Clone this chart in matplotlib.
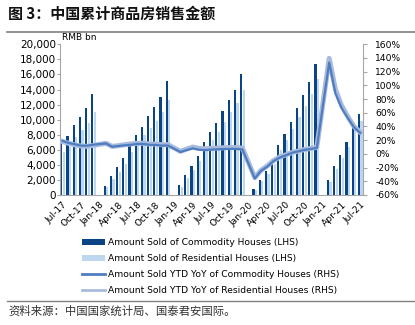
import numpy as np
import matplotlib
matplotlib.use("Agg")
import matplotlib.pyplot as plt
from matplotlib.patches import Patch
from matplotlib.lines import Line2D
from matplotlib.ticker import FuncFormatter, MultipleLocator

plt.rcParams['font.family'] = ['DejaVu Sans', 'Noto Sans CJK SC']

# ---------------- data ----------------
tick_labels = ['Jul-17', 'Oct-17', 'Jan-18', 'Apr-18', 'Jul-18', 'Oct-18', 'Jan-19',
               'Apr-19', 'Jul-19', 'Oct-19', 'Jan-20', 'Apr-20', 'Jul-20', 'Oct-20',
               'Jan-21', 'Apr-21', 'Jul-21']

# monthly YTD amounts (RMB bn), Jul-17 .. Jul-21 (January has no data)
commodity_sales = [6900, 7800, 9300, 10400, 11600, 13400,
                   None, 1200, 2500, 3650, 4850, 6600, 7950, 9000, 10450, 11700, 13050, 15100,
                   None, 1300, 2700, 3850, 5200, 7000, 8300, 9600, 11150, 12550, 14000, 16050,
                   None, 800, 2050, 3250, 4500, 6700, 8150, 9750, 11600, 13300, 15000, 17400,
                   None, 1950, 3850, 5300, 7050, 9200, 10700]
residential_sales = [5750, 6400, 7750, 8650, 9600, 11050,
                     None, 1000, 2150, 3100, 4150, 5750, 7150, 8000, 8950, 9850, 11050, 12650,
                     None, 1100, 2250, 3350, 4500, 6200, 7250, 8350, 9700, 10950, 12200, 14000,
                     None, 700, 1850, 2850, 4050, 5950, 7250, 8750, 10350, 11850, 13350, 15450,
                     None, 1750, 3500, 4950, 6400, 8600, 9800]
# YTD YoY (%)
commodity_yoy = [19.0, 16.0, 14.0, 12.0, 12.0, 13.5,
                 None, 15.3, 10.4, 11.5, 12.5, 13.2, 14.5, 14.5, 13.3, 13.1, 12.1, 12.2,
                 None, 2.8, 5.6, 8.1, 6.1, 5.6, 6.2, 6.7, 7.1, 7.3, 7.3, 6.5,
                 None, -35.9, -24.7, -18.6, -10.6, -5.4, -2.1, 1.6, 3.7, 5.8, 7.2, 8.7,
                 None, 133.4, 88.5, 67.0, 52.4, 38.9, 30.7]
residential_yoy = [18.0, 15.5, 13.0, 11.5, 11.0, 12.5,
                   None, 15.5, 11.0, 12.0, 13.5, 14.5, 15.5, 15.5, 14.5, 14.3, 13.5, 13.5,
                   None, 3.7, 7.0, 10.0, 8.0, 7.5, 8.0, 8.5, 9.0, 9.3, 9.3, 8.5,
                   None, -34.7, -24.0, -17.7, -9.8, -4.6, -1.4, 2.0, 4.1, 6.4, 7.9, 9.8,
                   None, 139.5, 94.4, 70.5, 54.4, 40.0, 31.6]

labels = ['Amount Sold of Commodity Houses (LHS)',
          'Amount Sold of Residential Houses (LHS)',
          'Amount Sold YTD YoY of Commodity Houses (RHS)',
          'Amount Sold YTD YoY of Residential Houses (RHS)']

# ---------------- style ----------------
c_dark = '#0B4485'
c_light = '#BDD7EE'
c_line_dark = '#4E7DC1'
c_line_light = '#A9BBDC'
c_axis = '#A6A6A6'

W, H = 415, 325
fig = plt.figure(figsize=(W / 100, H / 100), dpi=100)
ax = fig.add_axes([60 / W, 1 - 195 / H, (363.3 - 60) / W, (195 - 44.3) / H])
ax2 = ax.twinx()

n = len(commodity_sales)
x_all = np.arange(n)

def pick(vals):
    xs = [i for i, v in enumerate(vals) if v is not None]
    return np.array(xs), np.array([vals[i] for i in xs], dtype=float)

bw = 0.36
xd, yd = pick(commodity_sales)
xl, yl = pick(residential_sales)
ax.bar(xd - 0.2, yd, width=bw, color=c_dark, linewidth=0, zorder=2)
ax.bar(xl + 0.2, yl, width=bw, color=c_light, linewidth=0, zorder=2)

xr, yr = pick(residential_yoy)
xc, yc = pick(commodity_yoy)
ax2.plot(xr, yr, color=c_line_light, lw=3.6, solid_joinstyle='round', zorder=3)
ax2.plot(xc, yc, color=c_line_dark, lw=1.6, solid_joinstyle='round', zorder=4)

ax.set_xlim(-0.42, n - 0.5)
ax.set_ylim(0, 20000)
ax2.set_ylim(-60, 160)
ax.yaxis.set_major_locator(MultipleLocator(2000))
ax2.yaxis.set_major_locator(MultipleLocator(20))
ax.yaxis.set_major_formatter(FuncFormatter(lambda v, p: f'{int(v):,}'))
ax2.yaxis.set_major_formatter(FuncFormatter(lambda v, p: f'{int(v)}%'))

ax.set_xticks(x_all[::3])
ax.set_xticklabels(tick_labels, rotation=45, ha='right', va='top',
                   rotation_mode='anchor', fontsize=6.6)
ax.tick_params(axis='x', length=0, pad=4)
ax.tick_params(axis='y', length=2, color=c_axis, pad=1, labelsize=7.5)
ax2.tick_params(axis='y', length=3, color=c_axis, pad=5.5, labelsize=6.6)

for a in (ax, ax2):
    a.spines['top'].set_visible(False)
    for s in ('left', 'right', 'bottom'):
        a.spines[s].set_color(c_axis)
        a.spines[s].set_linewidth(0.8)
ax.spines['right'].set_visible(False)
ax2.spines['left'].set_visible(False)
ax2.spines['bottom'].set_visible(False)
ax.set_facecolor('none')

fig.text(62 / W, 1 - 38 / H, 'RMB bn', fontsize=6.5, ha='left', va='center')

# title
fig.text(8 / W, 1 - 14 / H, '图 3：中国累计商品房销售金额', fontsize=10.8,
         fontweight='bold', family=['Noto Sans CJK SC', 'DejaVu Sans'],
         ha='left', va='center', color='#111111')
fig.add_artist(Line2D([7 / W, 1.0], [1 - 32.3 / H, 1 - 32.3 / H],
                      transform=fig.transFigure, color='#7F7F7F', lw=1.2))
# source
fig.add_artist(Line2D([7 / W, 1.0], [1 - 300.5 / H, 1 - 300.5 / H],
                      transform=fig.transFigure, color='#7F7F7F', lw=1.0))
fig.text(8 / W, 1 - 311 / H, '资料来源：中国国家统计局、国泰君安国际。', fontsize=8.2,
         family=['Noto Sans CJK SC', 'DejaVu Sans'], style='italic',
         ha='left', va='center', color='#333333')

handles = [Patch(facecolor=c_dark, edgecolor='none'),
           Patch(facecolor=c_light, edgecolor='none'),
           Line2D([], [], color=c_line_dark, lw=2),
           Line2D([], [], color=c_line_light, lw=2)]
fig.legend(handles, labels, loc='upper left', bbox_to_anchor=(82 / W, 1 - 238 / H),
           frameon=False, fontsize=6.6, handlelength=2.55, handleheight=0.55,
           handletextpad=0.25, labelspacing=0.78, borderaxespad=0, borderpad=0)

fig.savefig('out.png', dpi=100)
